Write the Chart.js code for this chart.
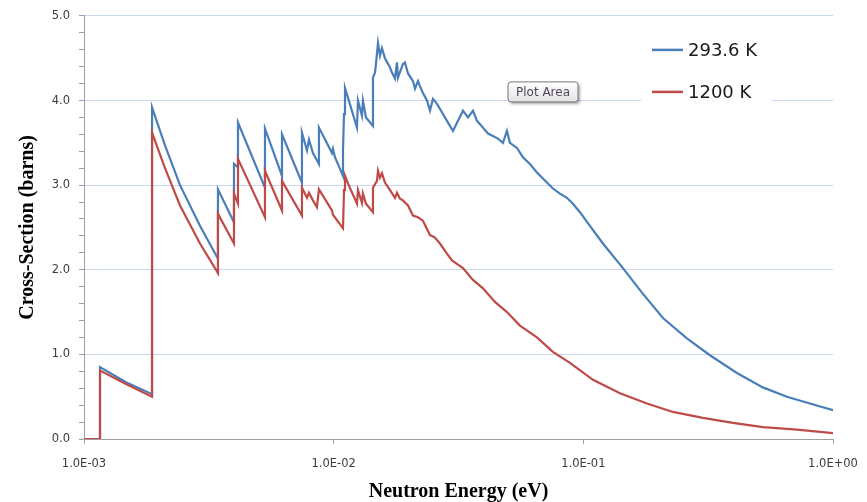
<!DOCTYPE html>
<html lang="en">
<head>
<meta charset="UTF-8">
<title>Cross-Section vs Neutron Energy</title>
<script src="https://cdn.jsdelivr.net/npm/chart.js"></script>
<style>
  html, body { margin: 0; padding: 0; background: #fff; }
</style>
</head>
<body>
<canvas id="xsChart" width="867" height="502"></canvas>
<script>
// Neutron energy (eV) / cross-section (barns)
const energy293 = [0.001, 0.001159, 0.001159, 0.001473, 0.001873, 0.001873, 0.002111, 0.002424, 0.002914, 0.003440,
  0.003440, 0.003988, 0.003988, 0.004138, 0.004138, 0.005307, 0.005307, 0.006209, 0.006209, 0.007464,
  0.007464, 0.007818, 0.007963, 0.00826, 0.00873, 0.00873, 0.009845, 0.009936, 0.01012, 0.01090,
  0.01090, 0.01100, 0.01110, 0.01240, 0.01251, 0.01298, 0.01310, 0.01347, 0.01437, 0.01437,
  0.01464, 0.01477, 0.01505, 0.01533, 0.01561, 0.01605, 0.01681, 0.01712, 0.01760, 0.01793,
  0.01809, 0.01894, 0.01929, 0.01985, 0.02078, 0.02117, 0.02176, 0.02216, 0.02278, 0.02364,
  0.02431, 0.02499, 0.02593, 0.02740, 0.02843, 0.03005, 0.03147, 0.03295, 0.03451, 0.03614,
  0.03750, 0.03963, 0.04150, 0.04345, 0.04550, 0.04764, 0.04943, 0.05082, 0.05421, 0.05729,
  0.06111, 0.06519, 0.07148, 0.07554, 0.08058, 0.08596, 0.09086, 0.09691, 0.1043, 0.1198,
  0.1441, 0.1717, 0.2084, 0.2599, 0.3214, 0.4122, 0.5238, 0.6537, 0.8082, 1.0];
const xs293 = [0, 0, 0.85, 0.67, 0.53, 3.92, 3.47, 3.00, 2.52, 2.13,
  2.95, 2.56, 3.25, 3.21, 3.74, 2.97, 3.67, 3.11, 3.60, 3.03,
  3.62, 3.41, 3.54, 3.38, 3.25, 3.68, 3.38, 3.43, 3.33, 3.11,
  3.41, 3.84, 4.15, 3.68, 4.00, 3.82, 4.00, 3.80, 3.70, 4.27,
  4.33, 4.43, 4.68, 4.53, 4.62, 4.50, 4.39, 4.33, 4.26, 4.45,
  4.27, 4.43, 4.45, 4.32, 4.23, 4.14, 4.23, 4.17, 4.09, 4.00,
  3.88, 4.02, 3.96, 3.84, 3.76, 3.64, 3.76, 3.88, 3.80, 3.88,
  3.76, 3.68, 3.61, 3.58, 3.55, 3.50, 3.64, 3.50, 3.44, 3.33,
  3.25, 3.15, 3.03, 2.96, 2.90, 2.85, 2.78, 2.68, 2.55, 2.31,
  2.02, 1.73, 1.43, 1.19, 0.99, 0.78, 0.61, 0.50, 0.42, 0.34];

const energy1200 = [0.001, 0.001159, 0.001159, 0.001473, 0.001873, 0.001873, 0.002111, 0.002424, 0.002914, 0.003440,
  0.003440, 0.003988, 0.003988, 0.004138, 0.004138, 0.005307, 0.005307, 0.006209, 0.006209, 0.007464,
  0.007464, 0.007818, 0.007963, 0.00826, 0.00857, 0.00873, 0.009845, 0.009936, 0.01090, 0.01100,
  0.01110, 0.01141, 0.01240, 0.01251, 0.01298, 0.01310, 0.01347, 0.01437, 0.01437, 0.01491,
  0.01505, 0.01533, 0.01561, 0.01605, 0.01681, 0.01760, 0.01793, 0.01843, 0.01894, 0.01985,
  0.02078, 0.02176, 0.02278, 0.02431, 0.02545, 0.02665, 0.02843, 0.02977, 0.03147, 0.03295,
  0.03614, 0.03963, 0.04426, 0.04943, 0.05573, 0.06519, 0.07554, 0.08839, 0.1093, 0.1402,
  0.1798, 0.2285, 0.3013, 0.3972, 0.5238, 0.7168, 1.0];
const xs1200 = [0, 0, 0.81, 0.65, 0.50, 3.62, 3.20, 2.76, 2.31, 1.96,
  2.66, 2.31, 2.90, 2.78, 3.31, 2.62, 3.17, 2.70, 3.05, 2.64,
  2.97, 2.85, 2.91, 2.82, 2.74, 2.95, 2.70, 2.65, 2.49, 2.94,
  3.11, 3.02, 2.78, 2.94, 2.79, 2.90, 2.78, 2.68, 2.97, 3.05,
  3.17, 3.09, 3.14, 3.03, 2.94, 2.85, 2.91, 2.84, 2.82, 2.76,
  2.64, 2.62, 2.58, 2.41, 2.38, 2.31, 2.19, 2.11, 2.06, 2.02,
  1.88, 1.78, 1.62, 1.50, 1.34, 1.20, 1.03, 0.90, 0.70, 0.54,
  0.42, 0.32, 0.25, 0.19, 0.14, 0.11, 0.07];

const seriesNames = ['293.6 K', '1200 K'];
const seriesColors = ['#4a7ebb', '#be4b48'];
const xTickValues = [0.001, 0.01, 0.1, 1];
const xTickLabels = ['1.0E-03', '1.0E-02', '1.0E-01', '1.0E+00'];
const yTickLabels = ['0.0', '1.0', '2.0', '3.0', '4.0', '5.0'];

const axisGray = '#a0a0a0';
const gridBlue = '#c9d7ee';
const tickFont = { family: 'DejaVu Sans', size: 11.5 };
const titleFont = { family: 'Liberation Serif', size: 20, weight: 'bold', lineHeight: 1 };

function toPoints(xs, ys) {
  return xs.map((x, i) => ({ x: x, y: ys[i] }));
}

// legend box and the "Plot Area" hover label, drawn over the plot
const overlayPlugin = {
  id: 'overlay',
  afterDraw(chart) {
    const ctx = chart.ctx;
    const area = chart.chartArea;
    ctx.save();

    // legend
    const lx = area.right - 192;
    ctx.fillStyle = '#ffffff';
    ctx.fillRect(lx, area.top + 14, 131, 78);
    ctx.font = '18px "DejaVu Sans"';
    ctx.textBaseline = 'middle';
    ctx.textAlign = 'left';
    [area.top + 34, area.top + 76].forEach((y, i) => {
      ctx.strokeStyle = seriesColors[i];
      ctx.lineWidth = 2.5;
      ctx.beginPath();
      ctx.moveTo(lx + 11, y);
      ctx.lineTo(lx + 42, y);
      ctx.stroke();
      ctx.fillStyle = '#1a1a1a';
      ctx.fillText(seriesNames[i], lx + 47, y + 1);
    });

    // "Plot Area" label
    const bx = area.left + 424, by = area.top + 66, bw = 70, bh = 20;
    ctx.shadowColor = 'rgba(0,0,0,0.35)';
    ctx.shadowBlur = 3;
    ctx.shadowOffsetX = 2;
    ctx.shadowOffsetY = 2;
    const g = ctx.createLinearGradient(0, by, 0, by + bh);
    g.addColorStop(0, '#ffffff');
    g.addColorStop(1, '#e3e3e6');
    ctx.fillStyle = g;
    ctx.beginPath();
    ctx.roundRect(bx, by, bw, bh, 3);
    ctx.fill();
    ctx.shadowColor = 'transparent';
    ctx.strokeStyle = '#777777';
    ctx.lineWidth = 1;
    ctx.stroke();
    ctx.fillStyle = '#50475a';
    ctx.font = '12px "DejaVu Sans"';
    ctx.textAlign = 'center';
    ctx.fillText('Plot Area', bx + bw / 2, by + bh / 2 + 1);
    ctx.restore();
  }
};

new Chart(document.getElementById('xsChart'), {
  type: 'line',
  data: {
    datasets: [
      {
        label: seriesNames[0],
        data: toPoints(energy293, xs293),
        borderColor: seriesColors[0],
        borderWidth: 2.2,
        pointRadius: 0,
        tension: 0,
        fill: false,
        order: 1
      },
      {
        label: seriesNames[1],
        data: toPoints(energy1200, xs1200),
        borderColor: seriesColors[1],
        borderWidth: 2.2,
        pointRadius: 0,
        tension: 0,
        fill: false,
        order: 0
      }
    ]
  },
  options: {
    responsive: false,
    animation: false,
    layout: { padding: { top: 15, right: 34, left: 0, bottom: 0 } },
    plugins: {
      legend: { display: false },
      tooltip: { enabled: false }
    },
    scales: {
      x: {
        type: 'logarithmic',
        min: 0.001,
        max: 1,
        afterFit(scale) {
          scale.height = 63;
          // the end labels fit inside the layout padding already
          scale.paddingLeft = 0;
          scale.paddingRight = 0;
        },
        afterBuildTicks(scale) { scale.ticks = xTickValues.map(v => ({ value: v })); },
        ticks: {
          autoSkip: false,
          maxRotation: 0,
          padding: 13,
          color: '#3c3c3c',
          font: tickFont,
          callback: (value) => {
            const i = xTickValues.indexOf(value);
            return i >= 0 ? xTickLabels[i] : '';
          }
        },
        grid: { drawOnChartArea: false, tickLength: 5, color: axisGray },
        border: { color: axisGray },
        title: { display: true, text: 'Neutron Energy (eV)', color: '#000', font: titleFont, padding: { top: 0, bottom: 0 } }
      },
      y: {
        min: 0,
        max: 5,
        afterFit(scale) { scale.width = 84; },
        ticks: {
          stepSize: 0.2,
          autoSkip: false,
          padding: 9,
          color: '#3c3c3c',
          font: tickFont,
          callback: (value) => {
            const k = Math.round(value * 5);
            return k % 5 === 0 ? yTickLabels[k / 5] : '';
          }
        },
        grid: {
          tickLength: 5,
          tickColor: axisGray,
          color: (ctx) => {
            if (!ctx.tick) return 'rgba(0,0,0,0)';
            const k = Math.round(ctx.tick.value * 5);
            return (k % 5 === 0 && k > 0) ? gridBlue : 'rgba(0,0,0,0)';
          }
        },
        border: { color: axisGray },
        title: { display: true, text: 'Cross-Section (barns)', color: '#000', font: titleFont, padding: { top: 18, bottom: 0 } }
      }
    }
  },
  plugins: [overlayPlugin]
});
</script>
</body>
</html>
